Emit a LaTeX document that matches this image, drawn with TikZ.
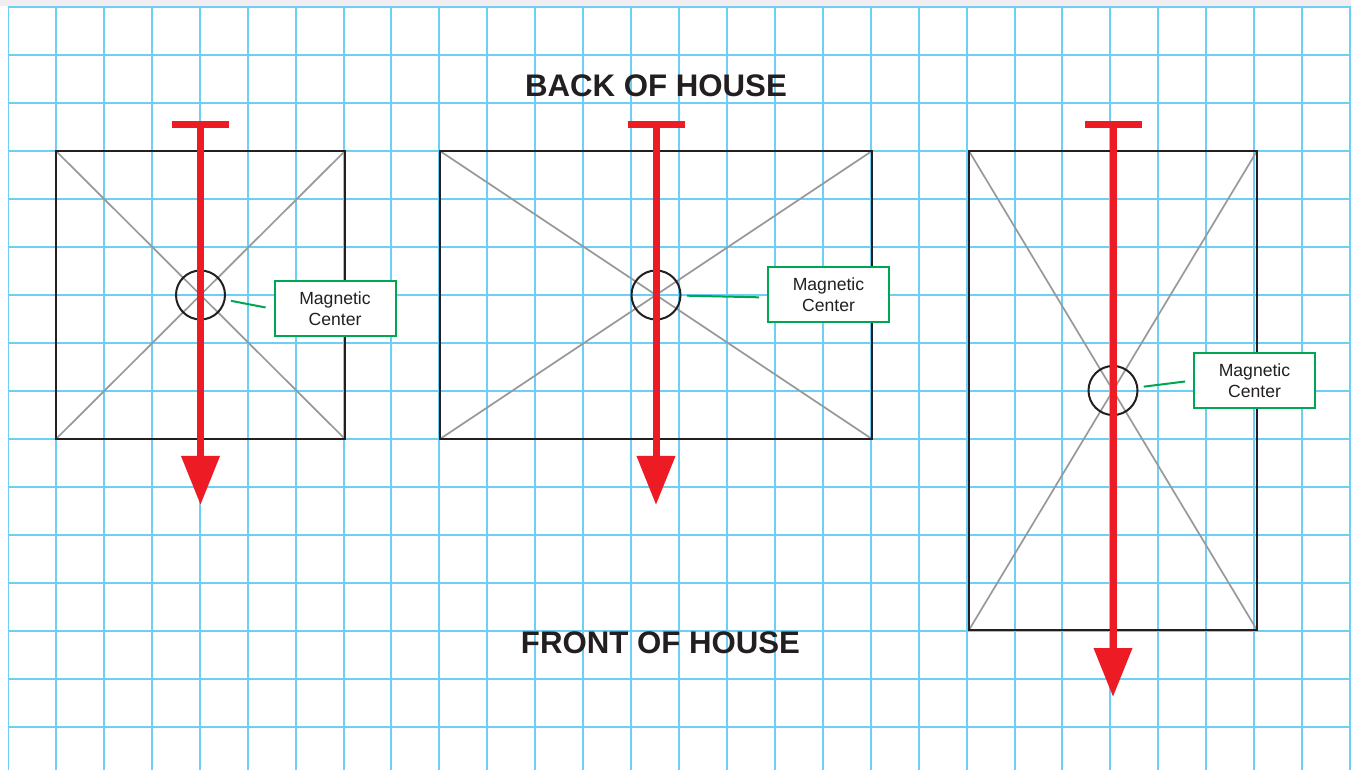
\documentclass[tikz,border=0pt]{standalone}
\usepackage{fontspec}
\setmainfont{Liberation Sans}
\usetikzlibrary{arrows.meta,calc}

\definecolor{gridblue}{RGB}{109,207,246}
\definecolor{arrowred}{RGB}{237,28,36}
\definecolor{boxgreen}{RGB}{0,166,81}
\definecolor{inkblack}{RGB}{35,31,32}
\definecolor{diaggray}{RGB}{153,153,153}
\definecolor{topgray}{RGB}{241,237,240}

\begin{document}
\begin{tikzpicture}[x=0.5pt,y=-0.5pt,
    grid/.style={gridblue, line width=1pt},
    wall/.style={inkblack, line width=1.2pt},
    diag/.style={diaggray, line width=0.85pt},
    mc/.style={circle, draw=inkblack, line width=1pt, minimum size=24.5pt, inner sep=0pt},
    axis/.style={arrowred, line width=3.5pt, {Bar[width=28.5pt]}-{Triangle[width=18.5pt,length=24.5pt]}},
    leader/.style={boxgreen, line width=1pt, shorten <=2.75pt, shorten >=4pt},
    tag/.style={draw=boxgreen, line width=1pt, fill=white, text=inkblack, minimum width=60.5pt,
        minimum height=27.5pt, align=center, font=\fontsize{8.8}{10.5}\selectfont},
    side/.style={text=inkblack, font=\fontsize{15.6}{18}\selectfont\bfseries}]

    % 背景与方格纸
    \useasboundingbox (0,0) rectangle (1351,770);
    \fill[white] (0,0) rectangle (1351,770);
    \fill[topgray] (0,0) rectangle (1351,6);
    \begin{scope}
        \clip (8,6) rectangle (1351,770);
        \foreach \k in {0,...,28} \draw[grid] ({8+47.93*\k},7) -- ({8+47.93*\k},770);
        \foreach \k in {0,...,16} \draw[grid] (8,{7+48*\k}) -- (1351,{7+48*\k});
    \end{scope}

    % 三个平面 (角点)
    \coordinate (A1) at (56,151);   \coordinate (A2) at (345,439);
    \coordinate (B1) at (440,151);  \coordinate (B2) at (872,439);
    \coordinate (C1) at (969,151);  \coordinate (C2) at (1257,630);

    % 对角线与外框
    \foreach \p/\q in {A1/A2,B1/B2,C1/C2}{
        \draw[diag] (\p) -- (\q);
        \draw[diag] (\p |- \q) -- (\q |- \p);
        \draw[wall] (\p) rectangle (\q);
    }

    % 磁场中心
    \node[mc] (mA) at ($(A1)!0.5!(A2)$) {};
    \node[mc] (mB) at ($(B1)!0.5!(B2)$) {};
    \node[mc] (mC) at ($(C1)!0.5!(C2)$) {};

    % 红色箭头
    \draw[axis] (mA |- 0,121) -- (mA |- 0,505);
    \draw[axis] (mB |- 0,121) -- (mB |- 0,505);
    \draw[axis] (mC |- 0,121) -- (mC |- 0,697);

    % 标签
    \node[tag] (tA) at (335,309)    {Magnetic\\Center};
    \node[tag] (tB) at (828.5,294.5) {Magnetic\\Center};
    \node[tag] (tC) at (1254.5,380.5) {Magnetic\\Center};

    \draw[leader] (mA) -- (tA.west);
    \draw[leader] (mB) -- ([yshift=-1.5pt]tB.west);
    \draw[leader] (mC) -- (tC.west);

    % 前后方向
    \node[side] (back)  at (656,85.5)  {BACK OF HOUSE};
    \node[side] (front) at (660.5,643) {FRONT OF HOUSE};

\end{tikzpicture}
\end{document}
